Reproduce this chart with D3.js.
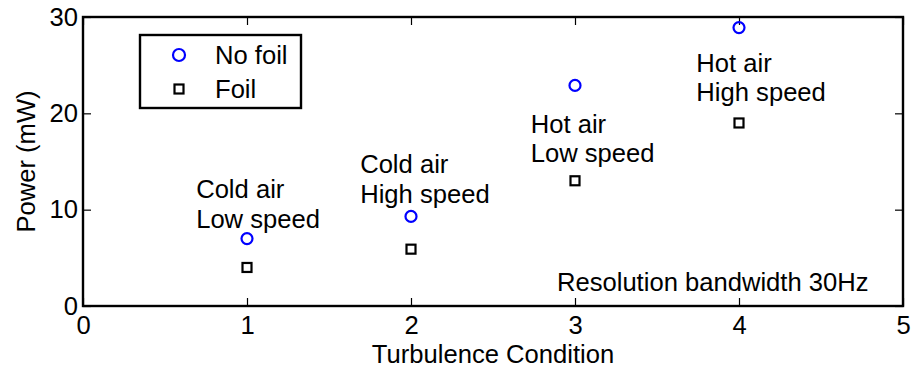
<!DOCTYPE html>
<html>
<head>
<meta charset="utf-8">
<script src="https://cdn.jsdelivr.net/npm/d3@7"></script>
<style>
  html, body { margin: 0; padding: 0; background: #fff; }
  svg { display: block; }
  text { font-family: "Liberation Sans", Arial, Helvetica, sans-serif; fill: #000; }
</style>
</head>
<body>
<svg id="chart" width="911" height="370"></svg>
<script>
// Turbulence condition index on the x axis
const conditions = [1, 2, 3, 4];
// Received power (mW) without and with the foil
const noFoil = [7.0, 9.3, 22.9, 28.9];
const foil = [4.0, 5.9, 13.0, 19.0];

const xTicks = [0, 1, 2, 3, 4, 5];
const yTicks = [0, 10, 20, 30];

// Condition descriptions placed in data coordinates (x, y of first baseline)
const labelLines = [
  ["Cold air", "Low speed"],
  ["Cold air", "High speed"],
  ["Hot air", "Low speed"],
  ["Hot air", "High speed"]
];
const labelX = [0.69, 1.69, 2.73, 3.74];
const labelY = [11.2, 13.8, 18.0, 24.3];

const legendNames = ["No foil", "Foil"];
const noteText = "Resolution bandwidth 30Hz";

const FONT = 25.6;
const margin = { left: 83, right: 8, top: 17, bottom: 64 };
const W = 911, H = 370;

const svg = d3.select("#chart");
const x = d3.scaleLinear().domain([0, 5]).range([margin.left, W - margin.right]);
const y = d3.scaleLinear().domain([0, 30]).range([H - margin.bottom, margin.top]);

const x0 = x.range()[0], x1 = x.range()[1];
const y0 = y.range()[0], y1 = y.range()[1];
const TICK = 8;

function styleAxis(g) {
  g.select(".domain").remove();
  g.selectAll(".tick line").attr("stroke", "#000").attr("stroke-width", 1.2);
  g.selectAll(".tick text").style("font-size", FONT + "px").attr("fill", "#000");
}

// Bottom axis (ticks point inward)
svg.append("g")
  .attr("transform", `translate(0,${y0})`)
  .call(d3.axisBottom(x).tickValues(xTicks).tickFormat(d3.format("d"))
    .tickSizeInner(-TICK).tickSizeOuter(0).tickPadding(10))
  .call(styleAxis)
  .selectAll(".tick text").attr("dy", "0.71em");

// Top axis ticks, no labels
svg.append("g")
  .attr("transform", `translate(0,${y1})`)
  .call(d3.axisTop(x).tickValues(xTicks).tickFormat("")
    .tickSizeInner(-TICK).tickSizeOuter(0))
  .call(styleAxis);

// Left axis
svg.append("g")
  .attr("transform", `translate(${x0},0)`)
  .call(d3.axisLeft(y).tickValues(yTicks).tickFormat(d3.format("d"))
    .tickSizeInner(-TICK).tickSizeOuter(0).tickPadding(5))
  .call(styleAxis);

// Right axis ticks, no labels
svg.append("g")
  .attr("transform", `translate(${x1},0)`)
  .call(d3.axisRight(y).tickValues(yTicks).tickFormat("")
    .tickSizeInner(-TICK).tickSizeOuter(0))
  .call(styleAxis);

// Plot box
svg.append("rect")
  .attr("x", x0).attr("y", y1)
  .attr("width", x1 - x0).attr("height", y0 - y1)
  .attr("fill", "none").attr("stroke", "#000").attr("stroke-width", 2.4);

// Axis titles
svg.append("text")
  .attr("x", (x0 + x1) / 2).attr("y", 363)
  .attr("text-anchor", "middle")
  .style("font-size", FONT + "px")
  .text("Turbulence Condition");

svg.append("text")
  .attr("transform", `translate(35,${(y0 + y1) / 2}) rotate(-90)`)
  .attr("text-anchor", "middle")
  .style("font-size", FONT + "px")
  .text("Power (mW)");

// Markers
const R = 5.5, S = 9;
svg.append("g").selectAll("circle")
  .data(conditions)
  .join("circle")
  .attr("cx", d => x(d))
  .attr("cy", (d, i) => y(noFoil[i]))
  .attr("r", R)
  .attr("fill", "none").attr("stroke", "#0000ff").attr("stroke-width", 2.2);

svg.append("g").selectAll("rect")
  .data(conditions)
  .join("rect")
  .attr("x", d => x(d) - S / 2)
  .attr("y", (d, i) => y(foil[i]) - S / 2)
  .attr("width", S).attr("height", S)
  .attr("fill", "none").attr("stroke", "#000").attr("stroke-width", 2.2);

// Condition annotations
const ann = svg.append("g").style("font-size", FONT + "px");
labelLines.forEach((lines, i) => {
  const t = ann.append("text").attr("x", x(labelX[i])).attr("y", y(labelY[i]));
  lines.forEach((s, k) => {
    t.append("tspan").attr("x", x(labelX[i])).attr("dy", k === 0 ? 0 : 29.5).text(s);
  });
});

ann.append("text")
  .attr("x", x(2.89)).attr("y", y(1.6))
  .text(noteText);

// Legend
const lg = svg.append("g");
lg.append("rect")
  .attr("x", 140).attr("y", 35).attr("width", 161).attr("height", 73)
  .attr("fill", "#fff").attr("stroke", "#000").attr("stroke-width", 2.4);
lg.append("circle")
  .attr("cx", 179).attr("cy", 55).attr("r", R + 0.5)
  .attr("fill", "none").attr("stroke", "#0000ff").attr("stroke-width", 2.2);
lg.append("rect")
  .attr("x", 179 - S / 2).attr("y", 89 - S / 2).attr("width", S).attr("height", S)
  .attr("fill", "none").attr("stroke", "#000").attr("stroke-width", 2.2);
lg.selectAll("text.lg")
  .data(legendNames)
  .join("text")
  .attr("class", "lg")
  .attr("x", 215)
  .attr("y", (d, i) => 64 + i * 34)
  .style("font-size", FONT + "px")
  .text(d => d);
</script>
</body>
</html>
